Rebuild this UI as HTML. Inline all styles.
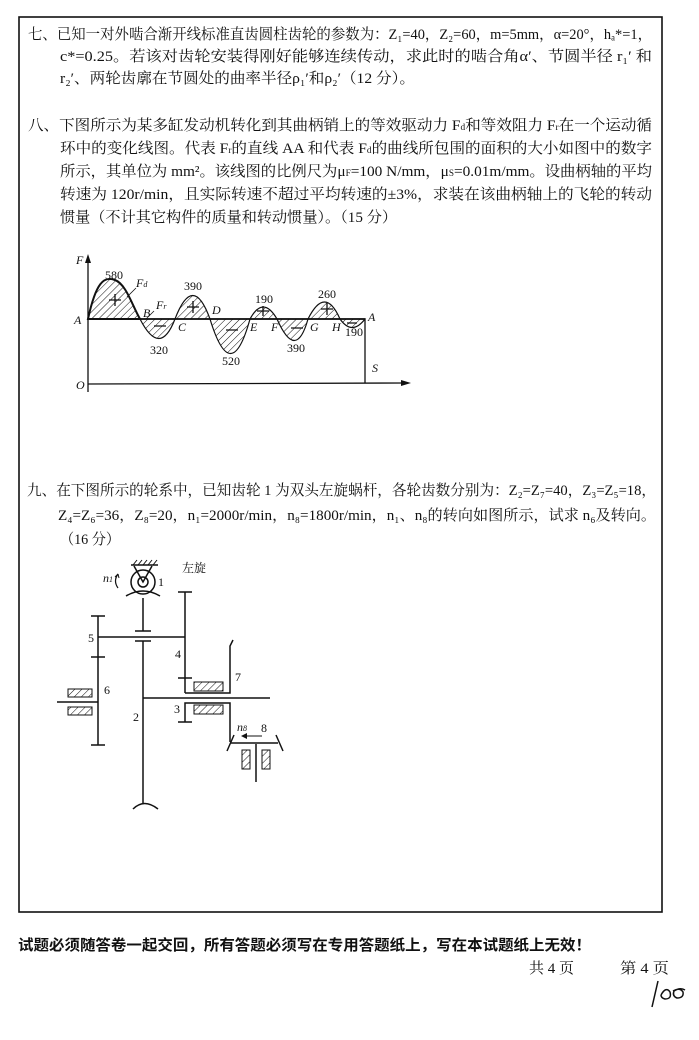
<!DOCTYPE html>
<html><head><meta charset="utf-8"><style>
html,body{margin:0;padding:0;background:#fff;}
svg{display:block;}
.t{font-family:"Liberation Serif","Noto Serif CJK SC","Noto Sans CJK SC",serif;font-size:15px;fill:#111;}
.g{font-family:"Liberation Serif",serif;font-size:12px;fill:#111;}
.gi{font-family:"Liberation Serif",serif;font-size:12px;font-style:italic;fill:#111;}
.b{font-family:"Liberation Sans","Noto Sans CJK SC",sans-serif;font-size:15px;font-weight:bold;fill:#111;}
</style></head><body>
<svg width="699" height="1040" viewBox="0 0 699 1040" xmlns="http://www.w3.org/2000/svg">
<defs>
<pattern id="h" width="5" height="5" patternUnits="userSpaceOnUse" patternTransform="rotate(45)">
<line x1="0" y1="0" x2="0" y2="5" stroke="#111" stroke-width="1"/></pattern>
</defs>
<rect x="19" y="17" width="643" height="895" fill="none" stroke="#111" stroke-width="1.6"/>

<text class="t" x="28" y="39" textLength="624" lengthAdjust="spacingAndGlyphs">七、已知一对外啮合渐开线标准直齿圆柱齿轮的参数为：Z₁=40，Z₂=60，m=5mm，α=20°，hₐ*=1，</text>
<text class="t" x="60" y="61" textLength="592" lengthAdjust="spacingAndGlyphs">c*=0.25。若该对齿轮安装得刚好能够连续传动，求此时的啮合角α′、节圆半径 r₁′ 和</text>
<text class="t" x="60" y="83" textLength="355" lengthAdjust="spacingAndGlyphs">r₂′、两轮齿廓在节圆处的曲率半径ρ₁′和ρ₂′（12 分）。</text>

<text class="t" x="28" y="130" textLength="624" lengthAdjust="spacingAndGlyphs">八、下图所示为某多缸发动机转化到其曲柄销上的等效驱动力 F<tspan font-size="9">d</tspan>和等效阻力 F<tspan font-size="9">r</tspan>在一个运动循</text>
<text class="t" x="60" y="153" textLength="592" lengthAdjust="spacingAndGlyphs">环中的变化线图。代表 F<tspan font-size="9">r</tspan>的直线 AA 和代表 F<tspan font-size="9">d</tspan>的曲线所包围的面积的大小如图中的数字</text>
<text class="t" x="60" y="176" textLength="592" lengthAdjust="spacingAndGlyphs">所示，其单位为 mm²。该线图的比例尺为μ<tspan font-size="9">F</tspan>=100 N/mm，μ<tspan font-size="9">S</tspan>=0.01m/mm。设曲柄轴的平均</text>
<text class="t" x="60" y="199" textLength="592" lengthAdjust="spacingAndGlyphs">转速为 120r/min，且实际转速不超过平均转速的±3%，求装在该曲柄轴上的飞轮的转动</text>
<text class="t" x="60" y="222" textLength="337" lengthAdjust="spacingAndGlyphs">惯量（不计其它构件的质量和转动惯量）。（15 分）</text>

<!-- graph -->
<g fill="url(#h)" stroke="#111" stroke-width="1.2">
<path d="M88,319 C96,282 104,276 115,280 C126,284 132,305 140,319 Z" stroke-width="2"/>
<path d="M140,319 Q160,358 175,319 Z"/>
<path d="M175,319 Q193,272 210,319 Z"/>
<path d="M210,319 Q231,388 250,319 Z"/>
<path d="M250,319 Q263,295 277,319 Z"/>
<path d="M277,319 Q296,362 308,319 Z"/>
<path d="M308,319 Q325,285 340,319 Z"/>
<path d="M340,319 Q352,336 365,319 Z"/>
</g>
<g stroke="#111" stroke-width="1.3" fill="none">
<line x1="88" y1="319" x2="365" y2="319" stroke-width="1.8"/>
<line x1="88" y1="258" x2="88" y2="392"/>
<line x1="88" y1="384" x2="405" y2="383"/>
<line x1="365" y1="319" x2="365" y2="383"/>
<line x1="127" y1="297" x2="136" y2="288" stroke-width="0.8"/>
<line x1="146" y1="319" x2="154" y2="311" stroke-width="0.8"/>
<path d="M109,300 h12 M115,294 v12 M187,307 h12 M193,301 v12 M257,311 h12 M263,306 v10 M321,309 h12 M327,303 v12 M154,326 h12 M226,330 h12 M291,328 h12 M347,323 h10"/>
</g>
<path d="M88,254 L85,263 L91,263 Z" fill="#111"/>
<path d="M411,383 L401,380 L401,386 Z" fill="#111"/>
<text class="gi" x="76" y="264">F</text>
<text class="g" x="105" y="279">580</text>
<text class="gi" x="136" y="287">F<tspan font-size="8">d</tspan></text>
<text class="g" x="184" y="290">390</text>
<text class="g" x="255" y="303">190</text>
<text class="g" x="318" y="298">260</text>
<text class="gi" x="74" y="324">A</text>
<text class="gi" x="143" y="317">B</text>
<text class="gi" x="156" y="309">F<tspan font-size="8">r</tspan></text>
<text class="gi" x="178" y="331">C</text>
<text class="gi" x="212" y="314">D</text>
<text class="gi" x="250" y="331">E</text>
<text class="gi" x="271" y="331">F</text>
<text class="gi" x="310" y="331">G</text>
<text class="gi" x="332" y="331">H</text>
<text class="gi" x="368" y="321">A</text>
<text class="g" x="150" y="354">320</text>
<text class="g" x="222" y="365">520</text>
<text class="g" x="287" y="352">390</text>
<text class="g" x="345" y="336">190</text>
<text class="gi" x="76" y="389">O</text>
<text class="gi" x="372" y="372">S</text>

<text class="t" x="27" y="495" textLength="629" lengthAdjust="spacingAndGlyphs">九、在下图所示的轮系中，已知齿轮 1 为双头左旋蜗杆，各轮齿数分别为：Z₂=Z₇=40，Z₃=Z₅=18，</text>
<text class="t" x="58" y="520" textLength="598" lengthAdjust="spacingAndGlyphs">Z₄=Z₆=36，Z₈=20，n₁=2000r/min，n₈=1800r/min，n₁、n₈的转向如图所示，试求 n₆及转向。</text>
<text class="t" x="60" y="544" textLength="60" lengthAdjust="spacingAndGlyphs">（16 分）</text>

<!-- gear train -->
<g stroke="#111" stroke-width="1.5" fill="none">
<line x1="131" y1="565" x2="158" y2="565"/>
<path d="M133,565 l4,-5 M138,565 l4,-5 M143,565 l4,-5 M148,565 l4,-5 M153,565 l4,-5" stroke-width="1"/>
<path d="M134,566 L143,582 L152,566"/>
<circle cx="143" cy="582" r="12"/>
<circle cx="143" cy="582" r="5"/>
<path d="M126,596 Q143,586 160,596"/>
<path d="M118,588 Q113,581 118,574" stroke-width="1.2"/>
<path d="M118,574 l-3,3 M118,574 l1,4" stroke-width="1"/>
<line x1="143" y1="598" x2="143" y2="631"/>
<line x1="135" y1="631" x2="151" y2="631"/>
<line x1="135" y1="641" x2="151" y2="641"/>
<line x1="143" y1="641" x2="143" y2="803"/>
<path d="M133,809 Q144,798 158,809"/>
<line x1="98" y1="637" x2="185" y2="637"/>
<line x1="98" y1="616" x2="98" y2="745"/>
<line x1="91" y1="616" x2="105" y2="616"/>
<line x1="91" y1="745" x2="105" y2="745"/>
<line x1="91" y1="657" x2="105" y2="657"/>
<line x1="57" y1="702" x2="98" y2="702"/>
<line x1="185" y1="592" x2="185" y2="693"/>
<line x1="178" y1="592" x2="192" y2="592"/>
<line x1="178" y1="678" x2="192" y2="678"/>
<polyline points="185,693 230,693 230,646 233,640"/>
<line x1="143" y1="698" x2="270" y2="698"/>
<polyline points="185,722 185,703 230,703 230,742"/>
<line x1="178" y1="722" x2="192" y2="722"/>
<line x1="231" y1="743" x2="278" y2="743"/>
<line x1="227" y1="751" x2="234" y2="735"/>
<line x1="276" y1="735" x2="283" y2="751"/>
<line x1="256" y1="744" x2="256" y2="782"/>
<line x1="245" y1="736" x2="262" y2="736" stroke-width="1"/>
</g>
<path d="M241,736 l6,-3 v6 Z" fill="#111"/>
<g fill="url(#h)" stroke="#111" stroke-width="1">
<rect x="68" y="689" width="24" height="8"/>
<rect x="68" y="707" width="24" height="8"/>
<rect x="194" y="682" width="29" height="9"/>
<rect x="194" y="705" width="29" height="9"/>
<rect x="242" y="750" width="8" height="19"/>
<rect x="262" y="750" width="8" height="19"/>
</g>
<text class="g" x="158" y="586">1</text>
<text class="t" x="182" y="572" style="font-size:12px">左旋</text>
<text class="gi" x="103" y="582">n<tspan font-size="8">1</tspan></text>
<text class="g" x="88" y="642">5</text>
<text class="g" x="175" y="658">4</text>
<text class="g" x="104" y="694">6</text>
<text class="g" x="133" y="721">2</text>
<text class="g" x="174" y="713">3</text>
<text class="g" x="235" y="681">7</text>
<text class="gi" x="237" y="731">n<tspan font-size="8">8</tspan></text>
<text class="g" x="261" y="732">8</text>

<text class="b" x="18" y="950" textLength="573" lengthAdjust="spacingAndGlyphs">试题必须随答卷一起交回，所有答题必须写在专用答题纸上，写在本试题纸上无效！</text>
<text class="t" x="529" y="973" textLength="45" lengthAdjust="spacingAndGlyphs">共 4 页</text>
<text class="t" x="620" y="973" textLength="49" lengthAdjust="spacingAndGlyphs">第 4 页</text>
<g stroke="#111" stroke-width="1.5" fill="none">
<path d="M658,981 L652,1007"/>
<path d="M661,995 q5,-9 9,-3 q2,7 -5,7 q-4,-1 -4,-4"/>
<path d="M673,991 q7,-4 10,1 q1,6 -6,6 q-5,-2 -3,-7 q6,-4 11,-1"/>
</g>
</svg>
</body></html>
